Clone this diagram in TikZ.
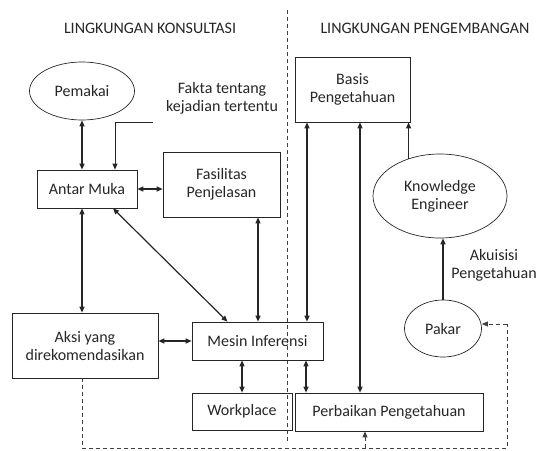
\documentclass[tikz,border=0pt]{standalone}
\usepackage{fontspec}
\setmainfont{Carlito}
\usepackage{tikz}
\usetikzlibrary{shapes,arrows,positioning,calc,arrows.meta}

\begin{document}
\begin{tikzpicture}[x=1pt,y=-1pt,
    every node/.style={font=\fontsize{16}{18}\selectfont, text=black!85},
    sys box/.style={rectangle, draw=black!85, line width=0.7pt, align=center, inner sep=0pt},
    sys bubble/.style={ellipse, draw=black!85, line width=0.7pt, align=center, inner sep=0pt},
    link/.style={line width=1.2pt, draw=black!85, {Triangle[length=6pt,width=5pt]}-{Triangle[length=6pt,width=5pt]}},
    one way/.style={line width=1.2pt, draw=black!85, -{Triangle[length=6pt,width=5pt]}},
    loop line/.style={line width=0.8pt, draw=black!75, dash pattern=on 4pt off 3pt}]
    \useasboundingbox (0,0) rectangle (537,450);

    % judul
    \node (K) at (150,28) {LINGKUNGAN KONSULTASI};
    \node (P) at (425,28) {LINGKUNGAN PENGEMBANGAN};
    \draw[loop line] (287,10) -- (287,442);

    % lingkungan konsultasi
    \node[sys bubble, minimum width=105pt, minimum height=58pt] (pemakai) at (82,91) {Pemakai};
    \node[align=center] (fakta) at (222,98) {Fakta tentang\\kejadian tertentu};
    \node[sys box, minimum width=100pt, minimum height=38pt] (antar) at (87,189) {Antar Muka};
    \node[sys box, minimum width=117pt, minimum height=65pt] (fasil) at (221.5,184.5) {Fasilitas\\Penjelasan};
    \node[sys box, minimum width=146pt, minimum height=65pt] (aksi) at (85,345.5) {Aksi yang\\direkomendasikan};
    \node[sys box, minimum width=131pt, minimum height=38pt] (mesin) at (257.5,341) {Mesin Inferensi};
    \node[sys box, minimum width=100pt, minimum height=37pt] (work) at (242,411.5) {Workplace};

    % lingkungan pengembangan
    \node[sys box, minimum width=115pt, minimum height=65pt] (basis) at (352.5,89.5) {Basis\\Pengetahuan};
    \node[sys bubble, minimum width=134pt, minimum height=84pt] (ke) at (440,196) {Knowledge\\Engineer};
    \node[sys bubble, minimum width=77pt, minimum height=57pt] (pakar) at (443,328.5) {Pakar};
    \node[sys box, minimum width=188pt, minimum height=38pt] (perbaikan) at (389,412) {Perbaikan Pengetahuan};
    \node[align=center] (akuisisi) at (494,265) {Akuisisi\\Pengetahuan};

    \coordinate (fk) at (153,122);
    \coordinate (lb) at (82,448);
    \coordinate (rb) at (507,448);
    \coordinate (pb) at (365,448);

    % panah
    \draw[link] (pemakai.south) -- (pemakai.south |- antar.north);
    \draw[one way, line width=1pt] (fk) -| ([xshift=28pt]antar.north);
    \draw[link] (antar.east) -- (antar.east -| fasil.west);
    \draw[link] ([xshift=-5pt]antar.south) -- ([xshift=-5pt]antar.south |- aksi.north);
    \draw[link] ([xshift=26pt]antar.south) -- ([xshift=-30pt]mesin.north);
    \draw[link] ([xshift=0.5pt]mesin.north |- fasil.south) -- ([xshift=0.5pt]mesin.north);
    \draw[link] (mesin.west) -- (mesin.west -| aksi.east);
    \draw[link] (work.north |- mesin.south) -- (work.north);
    \draw[link] ([xshift=48.5pt]mesin.south) -- ([xshift=48.5pt]mesin.south |- perbaikan.north);
    \draw[link] ([xshift=-45.5pt]basis.south) -- ([xshift=-45.5pt]basis.south |- mesin.north);
    \draw[link] ([xshift=7.5pt]basis.south) -- ([xshift=7.5pt]basis.south |- perbaikan.north);
    \draw[one way] (ke.130) -- (ke.130 |- basis.south);
    \draw[one way] (pakar.north) -- (pakar.north |- ke.south);

    % umpan balik
    \draw[loop line] (lb |- aksi.south) -- (lb) -- (rb) -- ([yshift=4.5pt]rb |- pakar.east);
    \draw[loop line, -{Triangle[length=6pt,width=5pt]}] ([yshift=4.5pt]rb |- pakar.east) -- ([yshift=4.5pt]pakar.east);
    \draw[loop line, -{Triangle[length=6pt,width=5pt]}] (pb) -- (pb |- perbaikan.south);
\end{tikzpicture}
\end{document}
